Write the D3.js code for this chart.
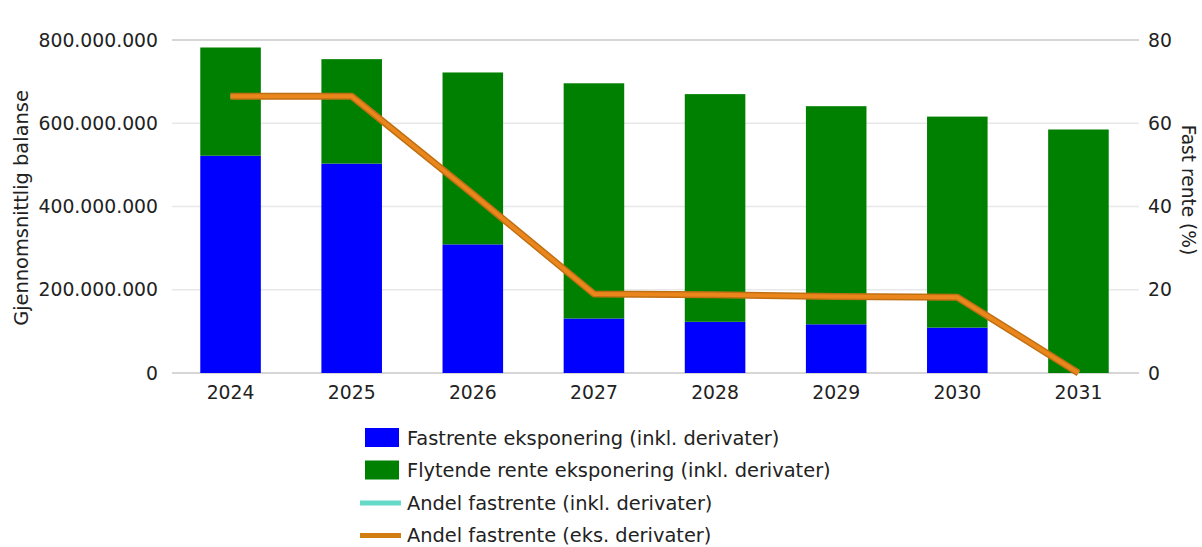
<!DOCTYPE html>
<html>
<head>
<meta charset="utf-8">
<script src="https://cdn.jsdelivr.net/npm/d3@7"></script>
<style>
  html, body { margin: 0; padding: 0; background: #fff; }
  svg { display: block; font-family: "DejaVu Sans", sans-serif; }
</style>
</head>
<body>
<svg id="chart" width="1202" height="547"></svg>
<script>
// Years on the x axis
const years = ["2024", "2025", "2026", "2027", "2028", "2029", "2030", "2031"];
// Average balance split by rate type (NOK)
const fastrente = [522e6, 503e6, 309e6, 131e6, 123e6, 117e6, 109e6, 0];
const flytende = [260e6, 251e6, 413e6, 565e6, 547e6, 524e6, 507e6, 585e6];
// Share of fixed rate (%)
const andelInkl = [66.5, 66.5, 43, 19, 18.8, 18.4, 18.2, 0];
const andelEks = [66.5, 66.5, 43, 19, 18.8, 18.4, 18.2, 0];
// Axis ticks
const leftTicks = [0, 200e6, 400e6, 600e6, 800e6];
const rightTicks = [0, 20, 40, 60, 80];

const legendItems = [
  { label: "Fastrente eksponering (inkl. derivater)", type: "rect", color: "#0000ff" },
  { label: "Flytende rente eksponering (inkl. derivater)", type: "rect", color: "#008000" },
  { label: "Andel fastrente (inkl. derivater)", type: "line", color: "#66d9c8" },
  { label: "Andel fastrente (eks. derivater)", type: "line", color: "#d27d12" }
];

const svg = d3.select("#chart");
const margin = { left: 170, right: 1139, top: 40, bottom: 373 };

const x = d3.scaleBand().domain(years).range([margin.left, margin.right]).paddingInner(0.5).paddingOuter(0.25);
const yL = d3.scaleLinear().domain([0, 800e6]).range([margin.bottom, margin.top]);
const yR = d3.scaleLinear().domain([0, 80]).range([margin.bottom, margin.top]);

const fmt = v => d3.format(",")(v).replace(/,/g, ".");
const tickFont = 18.8;

// Grid lines
svg.append("g")
  .selectAll("line")
  .data(leftTicks)
  .join("line")
  .attr("x1", margin.left + 2).attr("x2", margin.right)
  .attr("y1", d => yL(d)).attr("y2", d => yL(d))
  .attr("stroke", d => (d === 0 || d === 800e6) ? "#c8c8c8" : "#e8e8e8")
  .attr("stroke-width", 1.5);

// Left axis
const leftAxis = svg.append("g")
  .attr("transform", `translate(${margin.left},0)`)
  .call(d3.axisLeft(yL).tickValues(leftTicks).tickFormat(fmt).tickSize(0).tickPadding(12));
leftAxis.select(".domain").remove();
leftAxis.selectAll("text").attr("font-size", tickFont).attr("fill", "#222").attr("font-family", "DejaVu Sans");

// Right axis
const rightAxis = svg.append("g")
  .attr("transform", `translate(${margin.right},0)`)
  .call(d3.axisRight(yR).tickValues(rightTicks).tickSize(0).tickPadding(9));
rightAxis.select(".domain").remove();
rightAxis.selectAll("text").attr("font-size", tickFont).attr("fill", "#222").attr("font-family", "DejaVu Sans");

// Bottom axis
const bottomAxis = svg.append("g")
  .attr("transform", `translate(0,${margin.bottom})`)
  .call(d3.axisBottom(x).tickSize(0).tickPadding(13));
bottomAxis.select(".domain").remove();
bottomAxis.selectAll("text").attr("font-size", tickFont).attr("fill", "#222").attr("font-family", "DejaVu Sans");

// Stacked bars
const rows = years.map((yr, i) => ({ year: yr, fast: fastrente[i], flyt: flytende[i] }));
const stack = d3.stack().keys(["fast", "flyt"])(rows);
const barColors = { fast: "#0000ff", flyt: "#008000" };
svg.append("g")
  .selectAll("g")
  .data(stack)
  .join("g")
  .attr("fill", d => barColors[d.key])
  .selectAll("rect")
  .data(d => d)
  .join("rect")
  .attr("x", d => x(d.data.year))
  .attr("width", x.bandwidth())
  .attr("y", d => yL(d[1]))
  .attr("height", d => yL(d[0]) - yL(d[1]));

// Share lines
const line = d3.line().x((d, i) => x(years[i]) + x.bandwidth() / 2).y(d => yR(d));
svg.append("path").datum(andelInkl).attr("d", line)
  .attr("fill", "none").attr("stroke", legendItems[2].color).attr("stroke-width", 5);
svg.append("path").datum(andelEks).attr("d", line)
  .attr("fill", "none").attr("stroke", "#c07012").attr("stroke-width", 7).attr("stroke-linejoin", "round");
svg.append("path").datum(andelEks).attr("d", line)
  .attr("fill", "none").attr("stroke", "#ea861c").attr("stroke-width", 4).attr("stroke-linejoin", "round");

// Axis titles
svg.append("text")
  .attr("transform", "translate(28,208) rotate(-90)")
  .attr("text-anchor", "middle").attr("font-size", 19.4).attr("fill", "#222")
  .text("Gjennomsnittlig balanse");
svg.append("text")
  .attr("transform", "translate(1182,190) rotate(90)")
  .attr("text-anchor", "middle").attr("font-size", 18.6).attr("fill", "#222")
  .text("Fast rente (%)");

// Legend
const legend = svg.append("g").attr("transform", "translate(365,438)");
const rowH = 32.5;
legendItems.forEach((it, i) => {
  const g = legend.append("g").attr("transform", `translate(0,${i * rowH})`);
  if (it.type === "rect") {
    g.append("rect").attr("x", 0).attr("y", -10).attr("width", 34).attr("height", 19).attr("fill", it.color);
  } else {
    g.append("line").attr("x1", -5).attr("x2", 36).attr("y1", 0).attr("y2", 0)
      .attr("stroke", it.color).attr("stroke-width", 5);
  }
  g.append("text").attr("x", 42).attr("y", 0).attr("dy", "0.35em")
    .attr("font-size", 19.4).attr("fill", "#222").text(it.label);
});
</script>
</body>
</html>
